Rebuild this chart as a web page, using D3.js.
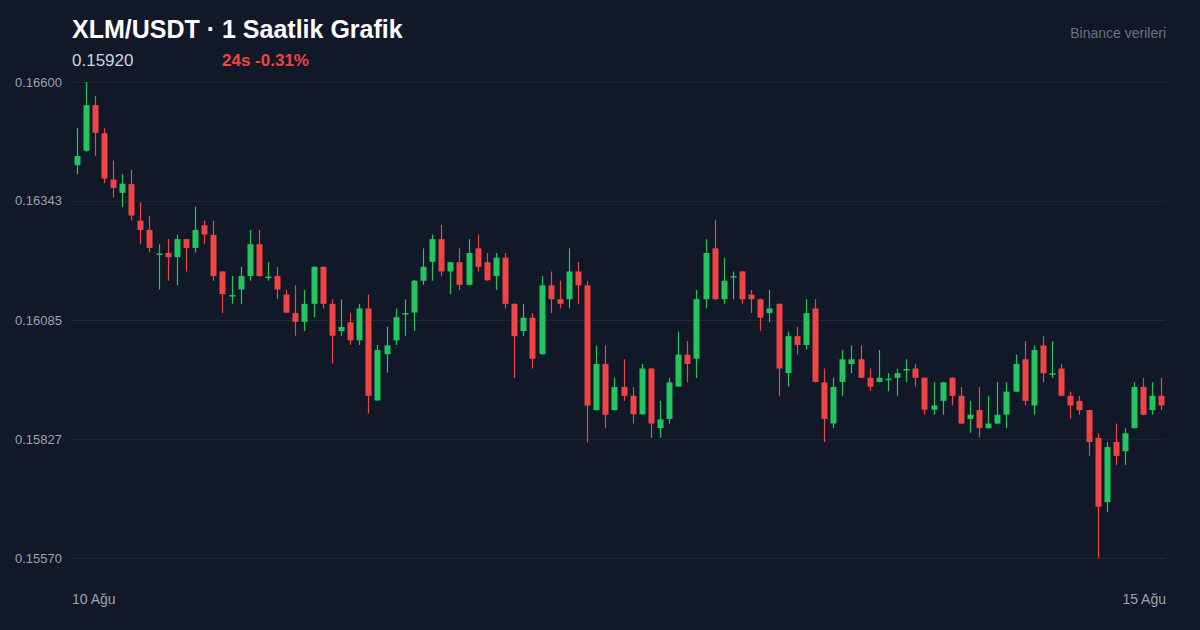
<!DOCTYPE html>
<html>
<head>
<meta charset="utf-8">
<script src="https://cdn.jsdelivr.net/npm/d3@7"></script>
<style>
  html, body { margin: 0; padding: 0; background: #111827; }
  svg { display: block; }
</style>
</head>
<body>
<svg width="1200" height="630"></svg>
<script>
// XLM/USDT 1h candles, 10 Ağu -> 15 Ağu (120 bars)
var opens = [
  0.16420, 0.16451, 0.16550, 0.16489, 0.16389, 0.16360, 0.16379, 0.16300, 0.16280, 0.16227,
  0.16230, 0.16221, 0.16260, 0.16241, 0.16290, 0.16269, 0.16190, 0.16137, 0.16151, 0.16180,
  0.16249, 0.16177, 0.16180, 0.16140, 0.16100, 0.16081, 0.16120, 0.16200, 0.16120, 0.16061,
  0.16080, 0.16041, 0.16110, 0.15911, 0.16011, 0.16041, 0.16097, 0.16101, 0.16170, 0.16211,
  0.16260, 0.16190, 0.16210, 0.16161, 0.16240, 0.16210, 0.16180, 0.16220, 0.16120, 0.16061,
  0.16090, 0.16011, 0.16160, 0.16130, 0.16130, 0.16190, 0.16160, 0.15890, 0.15990, 0.15890,
  0.15940, 0.15921, 0.15881, 0.15980, 0.15851, 0.15871, 0.15941, 0.16010, 0.16001, 0.16130,
  0.16240, 0.16130, 0.16177, 0.16190, 0.16140, 0.16130, 0.16100, 0.16120, 0.15970, 0.16050,
  0.16031, 0.16110, 0.15950, 0.15861, 0.15951, 0.15990, 0.16000, 0.15960, 0.15951, 0.15956,
  0.15960, 0.15977, 0.15980, 0.15960, 0.15891, 0.15910, 0.15960, 0.15921, 0.15871, 0.15890,
  0.15851, 0.15861, 0.15880, 0.15930, 0.16000, 0.15900, 0.16030, 0.15968, 0.15980, 0.15921,
  0.15910, 0.15890, 0.15830, 0.15691, 0.15821, 0.15801, 0.15851, 0.15940, 0.15890, 0.15921
];
var highs = [
  0.16500, 0.16600, 0.16570, 0.16500, 0.16430, 0.16400, 0.16410, 0.16340, 0.16310, 0.16249,
  0.16260, 0.16270, 0.16261, 0.16330, 0.16300, 0.16300, 0.16191, 0.16180, 0.16200, 0.16280,
  0.16280, 0.16210, 0.16200, 0.16150, 0.16160, 0.16150, 0.16201, 0.16201, 0.16130, 0.16130,
  0.16100, 0.16120, 0.16140, 0.16031, 0.16070, 0.16110, 0.16130, 0.16172, 0.16240, 0.16270,
  0.16291, 0.16211, 0.16240, 0.16260, 0.16270, 0.16230, 0.16230, 0.16230, 0.16121, 0.16120,
  0.16100, 0.16180, 0.16190, 0.16170, 0.16240, 0.16210, 0.16170, 0.16030, 0.16030, 0.15960,
  0.16000, 0.15940, 0.15990, 0.15981, 0.15910, 0.15960, 0.16060, 0.16040, 0.16150, 0.16260,
  0.16301, 0.16220, 0.16190, 0.16191, 0.16150, 0.16131, 0.16150, 0.16121, 0.16060, 0.16070,
  0.16130, 0.16130, 0.15980, 0.15960, 0.16020, 0.16030, 0.16030, 0.15980, 0.16020, 0.15970,
  0.15980, 0.16000, 0.15990, 0.15961, 0.15950, 0.15951, 0.15961, 0.15940, 0.15910, 0.15940,
  0.15921, 0.15950, 0.15950, 0.16010, 0.16039, 0.16030, 0.16050, 0.16039, 0.15990, 0.15930,
  0.15921, 0.15891, 0.15840, 0.15821, 0.15861, 0.15851, 0.15950, 0.15960, 0.15950, 0.15960
];
var lows = [
  0.16400, 0.16449, 0.16440, 0.16381, 0.16350, 0.16330, 0.16300, 0.16250, 0.16231, 0.16151,
  0.16170, 0.16160, 0.16190, 0.16231, 0.16250, 0.16170, 0.16100, 0.16120, 0.16120, 0.16170,
  0.16179, 0.16170, 0.16130, 0.16100, 0.16051, 0.16061, 0.16091, 0.16110, 0.15991, 0.16051,
  0.16031, 0.16031, 0.15882, 0.15910, 0.15971, 0.16031, 0.16051, 0.16061, 0.16161, 0.16170,
  0.16180, 0.16141, 0.16150, 0.16160, 0.16190, 0.16170, 0.16150, 0.16110, 0.15960, 0.16050,
  0.15980, 0.16010, 0.16100, 0.16110, 0.16110, 0.16120, 0.15820, 0.15889, 0.15851, 0.15889,
  0.15910, 0.15861, 0.15880, 0.15830, 0.15830, 0.15861, 0.15940, 0.15950, 0.15960, 0.16110,
  0.16129, 0.16120, 0.16130, 0.16120, 0.16100, 0.16061, 0.16080, 0.15921, 0.15941, 0.16011,
  0.16021, 0.15950, 0.15821, 0.15851, 0.15921, 0.15970, 0.15959, 0.15931, 0.15950, 0.15931,
  0.15921, 0.15951, 0.15941, 0.15880, 0.15880, 0.15880, 0.15900, 0.15860, 0.15841, 0.15831,
  0.15850, 0.15860, 0.15851, 0.15929, 0.15900, 0.15880, 0.15950, 0.15960, 0.15920, 0.15871,
  0.15880, 0.15791, 0.15570, 0.15670, 0.15771, 0.15771, 0.15850, 0.15879, 0.15880, 0.15890
];
var closes = [
  0.16440, 0.16550, 0.16490, 0.16391, 0.16371, 0.16380, 0.16311, 0.16280, 0.16241, 0.16229,
  0.16221, 0.16260, 0.16241, 0.16280, 0.16270, 0.16180, 0.16141, 0.16139, 0.16180, 0.16249,
  0.16180, 0.16179, 0.16151, 0.16101, 0.16081, 0.16120, 0.16200, 0.16120, 0.16051, 0.16070,
  0.16041, 0.16110, 0.15921, 0.16020, 0.16030, 0.16091, 0.16100, 0.16170, 0.16200, 0.16260,
  0.16190, 0.16210, 0.16161, 0.16230, 0.16200, 0.16171, 0.16220, 0.16120, 0.16050, 0.16090,
  0.16001, 0.16160, 0.16130, 0.16120, 0.16190, 0.16160, 0.15900, 0.15990, 0.15880, 0.15940,
  0.15921, 0.15881, 0.15980, 0.15861, 0.15870, 0.15950, 0.16010, 0.15990, 0.16130, 0.16230,
  0.16130, 0.16170, 0.16180, 0.16130, 0.16130, 0.16090, 0.16110, 0.15980, 0.16050, 0.16031,
  0.16100, 0.15951, 0.15871, 0.15940, 0.16000, 0.16000, 0.15960, 0.15941, 0.15960, 0.15958,
  0.15970, 0.15979, 0.15960, 0.15891, 0.15900, 0.15950, 0.15921, 0.15861, 0.15880, 0.15851,
  0.15861, 0.15880, 0.15930, 0.15990, 0.15910, 0.16020, 0.15970, 0.15970, 0.15921, 0.15900,
  0.15890, 0.15821, 0.15681, 0.15810, 0.15791, 0.15840, 0.15940, 0.15880, 0.15921, 0.15900
];
var yTicks = [0.15570, 0.15827, 0.16085, 0.16343, 0.16600];
var xLabels = ['10 Ağu', '15 Ağu'];

var title = 'XLM/USDT · 1 Saatlik Grafik';
var lastPrice = '0.15920';
var change24 = '24s -0.31%';
var source = 'Binance verileri';

var width = 1200;
var height = 630;
var margin = {top: 82, right: 34, bottom: 72, left: 72};
var green = '#22c55e';
var red = '#ef4444';
var font = '"Liberation Sans", Arial, Helvetica, sans-serif';

var svg = d3.select('svg')
  .attr('width', width)
  .attr('height', height)
  .style('font-family', font);

svg.append('rect')
  .attr('width', width)
  .attr('height', height)
  .attr('fill', '#111827');

var candles = opens.map(function(o, i) {
  return {i: i, open: o, high: highs[i], low: lows[i], close: closes[i]};
});

var x = d3.scaleBand()
  .domain(candles.map(function(d) { return d.i; }))
  .range([margin.left, width - margin.right])
  .paddingInner(0.34)
  .paddingOuter(0.17);

var y = d3.scaleLinear()
  .domain([d3.min(lows), d3.max(highs)])
  .range([height - margin.bottom, margin.top]);

// grid + y labels
var yAxis = d3.axisLeft(y)
  .tickValues(yTicks)
  .tickSize(-(width - margin.left - margin.right))
  .tickPadding(10)
  .tickFormat(d3.format('.5f'));

var gy = svg.append('g')
  .attr('transform', `translate(${margin.left},0)`)
  .call(yAxis);
gy.select('.domain').remove();
gy.selectAll('.tick line')
  .attr('stroke', '#1f2937')
  .attr('stroke-width', 1);
gy.selectAll('.tick text')
  .attr('fill', '#9ca3af')
  .style('font-family', font)
  .style('font-size', '13px');

// candles
var g = svg.append('g');
var cx = function(d) { return Math.round(x(d.i) + x.bandwidth() / 2) + 0.5; };
var col = function(d) { return d.close >= d.open ? green : red; };

g.selectAll('.wick')
  .data(candles)
  .enter()
  .append('line')
  .attr('class', 'wick')
  .attr('x1', cx)
  .attr('x2', cx)
  .attr('y1', function(d) { return y(d.high); })
  .attr('y2', function(d) { return y(d.low); })
  .attr('stroke', col)
  .attr('stroke-width', 1.2);

g.selectAll('.body')
  .data(candles)
  .enter()
  .append('rect')
  .attr('class', 'body')
  .attr('x', function(d) { return cx(d) - x.bandwidth() / 2; })
  .attr('width', x.bandwidth())
  .attr('y', function(d) { return y(Math.max(d.open, d.close)); })
  .attr('height', function(d) {
    return Math.max(1.5, Math.abs(y(d.open) - y(d.close)));
  })
  .attr('fill', col);

// header
svg.append('text')
  .attr('x', 72)
  .attr('y', 38)
  .attr('fill', '#ffffff')
  .style('font-size', '25px')
  .style('font-weight', 'bold')
  .text(title);

svg.append('text')
  .attr('x', 72)
  .attr('y', 66)
  .attr('fill', '#cbd5e1')
  .style('font-size', '17px')
  .text(lastPrice);

svg.append('text')
  .attr('x', 222)
  .attr('y', 66)
  .attr('fill', red)
  .style('font-size', '17px')
  .style('font-weight', 'bold')
  .text(change24);

svg.append('text')
  .attr('x', 1166)
  .attr('y', 38)
  .attr('text-anchor', 'end')
  .attr('fill', '#6b7280')
  .style('font-size', '14px')
  .text(source);

// x labels (first / last day)
svg.selectAll('.xlabel')
  .data(xLabels)
  .enter()
  .append('text')
  .attr('class', 'xlabel')
  .attr('x', function(d, i) { return i === 0 ? margin.left : width - margin.right; })
  .attr('y', 604)
  .attr('text-anchor', function(d, i) { return i === 0 ? 'start' : 'end'; })
  .attr('fill', '#9ca3af')
  .style('font-size', '14px')
  .text(function(d) { return d; });
</script>
</body>
</html>
